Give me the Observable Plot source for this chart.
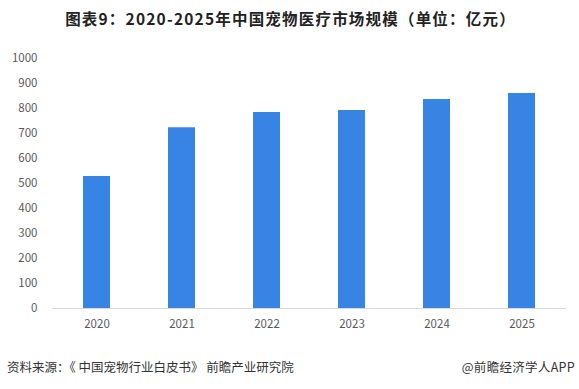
<!DOCTYPE html>
<html><head><meta charset="utf-8">
<script src="https://cdn.jsdelivr.net/npm/d3@7"></script>
<script src="https://cdn.jsdelivr.net/npm/@observablehq/plot@0.6"></script>
<style>
body{margin:0;background:#fff;}
#wrap{position:relative;width:579px;height:389px;font-family:"Noto Sans CJK SC","Noto Sans",sans-serif;overflow:hidden;}
#title{position:absolute;top:7px;left:1px;width:579px;text-align:center;font-size:15.5px;letter-spacing:1.2px;font-weight:bold;color:#222;}
#chart{position:absolute;top:40px;left:0;}
#src{position:absolute;top:357px;left:7px;font-size:12.5px;color:#333;}
#app{position:absolute;top:357px;right:4px;font-size:12.5px;color:#333;letter-spacing:0.3px;}
</style></head>
<body><div id="wrap">
<div id="title">图表9：2020-2025年中国宠物医疗市场规模（单位：亿元）</div>
<div id="chart"></div>
<div id="src">资料来源：《 中国宠物行业白皮书》 前瞻产业研究院</div>
<div id="app">@前瞻经济学人APP</div>
</div>
<script>
const years = ["2020","2021","2022","2023","2024","2025"];
const values = [528, 723, 784, 792, 836, 860];
const yTicks = [0,100,200,300,400,500,600,700,800,900,1000];
const data = years.map((y,i)=>({year:y, value:values[i]}));
const chart = Plot.plot({
  width: 579, height: 300,
  marginTop: 18, marginBottom: 32, marginLeft: 52, marginRight: 13,
  style: {fontFamily: '"Noto Sans CJK SC","Noto Sans",sans-serif', fontSize: "11.5px", color: "#595959", background: "#fff"},
  x: {domain: years, paddingInner: 0.684, paddingOuter: 0.342, label: null, tickSize: 0, tickPadding: 11},
  y: {domain: [0,1000], ticks: yTicks, tickFormat: d => String(d), label: null, tickSize: 0, tickPadding: 15},
  marks: [
    Plot.barY(data, {x: "year", y: "value", fill: "#3884e4"}),
    Plot.ruleY([0], {stroke: "#d9d9d9", strokeWidth: 1})
  ]
});
document.getElementById("chart").appendChild(chart);
</script>
</body></html>
